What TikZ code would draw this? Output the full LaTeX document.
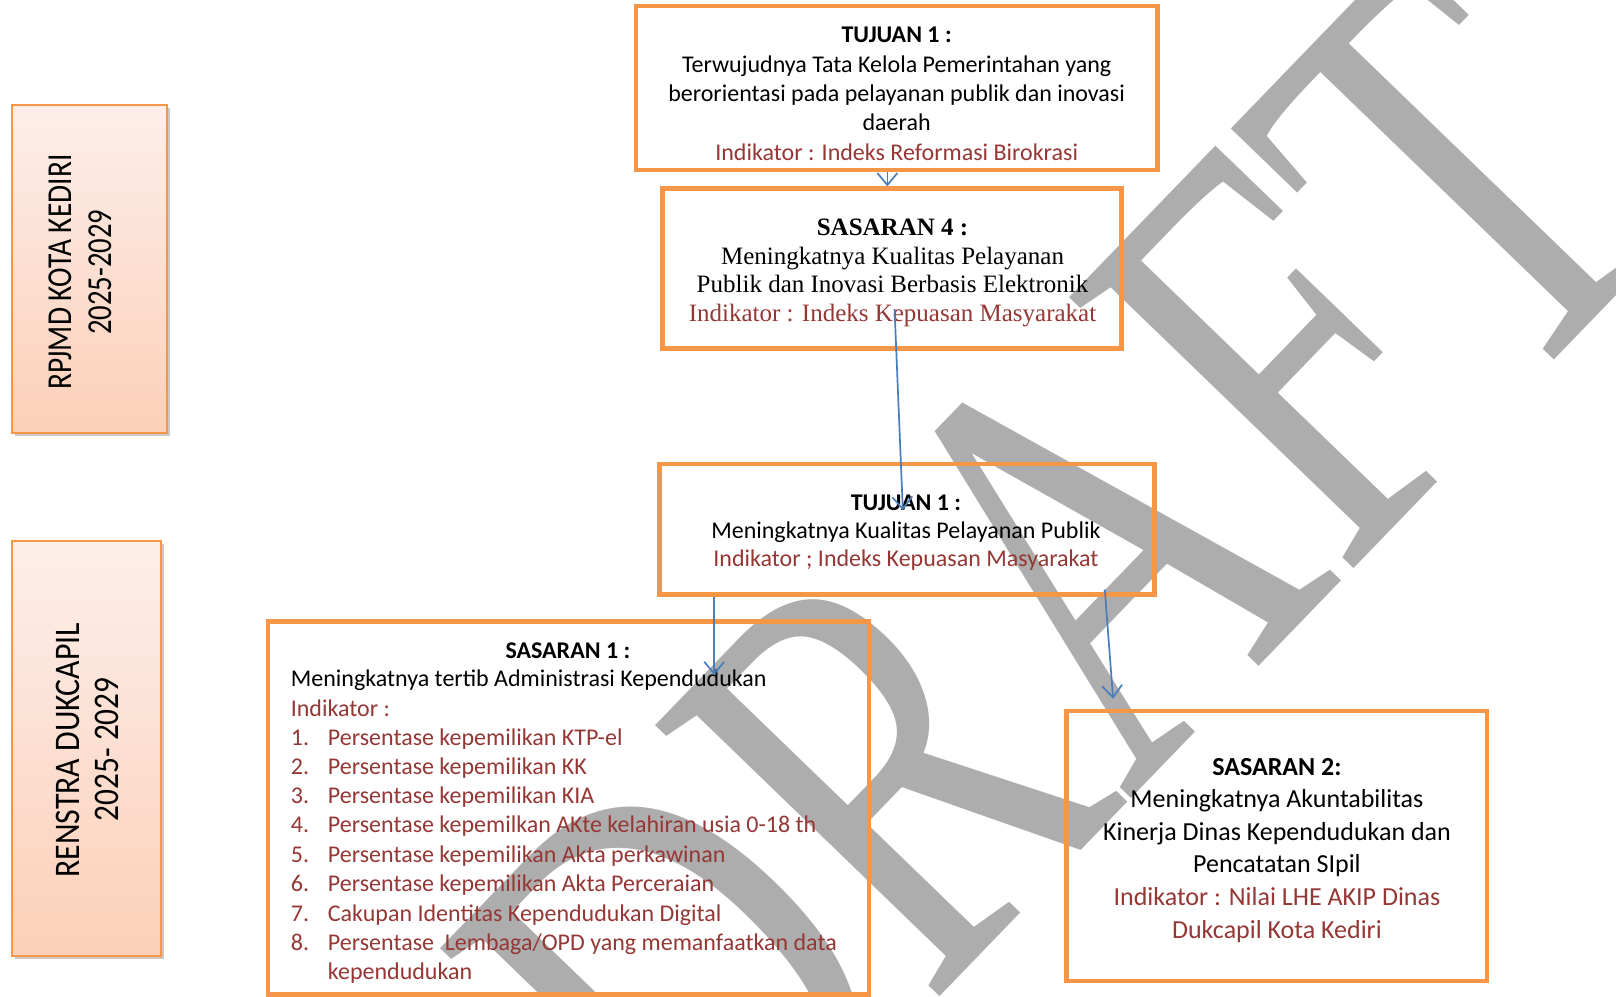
\documentclass[tikz,border=0pt]{standalone}
\usepackage{fontspec}
\setmainfont{Carlito}
\newfontfamily\serifbox{Liberation Serif}
\newfontfamily\wmfamily{Liberation Serif}
\usetikzlibrary{arrows.meta,shadows,fit}
\definecolor{orangeb}{RGB}{247,150,70}
\definecolor{bluea}{RGB}{74,126,187}
\definecolor{redt}{RGB}{149,55,53}
\definecolor{wmgray}{RGB}{173,173,173}
\definecolor{pinktop}{RGB}{253,238,234}
\definecolor{peachbot}{RGB}{251,208,184}
\begin{document}
\begin{tikzpicture}[x=1.0306pt,y=-1.0306pt,
  mainbox/.style={draw=orangeb,line width=4.5pt,inner sep=0pt,rectangle},
  sidebox/.style={draw=orangeb,line width=2pt,inner sep=0pt,rectangle,
     top color=pinktop,bottom color=peachbot,
     drop shadow={shadow xshift=3pt,shadow yshift=-3pt,opacity=0.35,fill=black!60}},
  arr/.style={draw=bluea,line width=1.7pt,-{Straight Barb[length=12pt,width=20pt,line width=1.7pt]}},
  txt/.style={inner sep=0pt,align=center},
  ctext/.style={font=\fontsize{24}{29.4}\selectfont},
  ltext/.style={inner sep=0pt,anchor=base west,font=\fontsize{24}{29}\selectfont},
  rtext/.style={ltext,text=redt}
]
\useasboundingbox (0,0) rectangle (1568,967);
\fill[white] (0,0) rectangle (1568,967);

% watermark
\node[inner sep=0pt,rotate=46,text=wmgray,font={\wmfamily\fontsize{600}{600}\selectfont}] (wm) at (1029,570) {\scalebox{0.715}[1]{DRAFT}};

% side boxes
\node[sidebox,fit={(12,102) (162,420)}] (rp) {};
\node[sidebox,fit={(12,525) (156,928)}] (rs) {};
\node[inner sep=0pt,rotate=90,font=\fontsize{35}{40}\selectfont] (rpa) at (58,264) {\scalebox{0.84}[1]{RPJMD KOTA KEDIRI}};
\node[inner sep=0pt,rotate=90,font=\fontsize{35}{40}\selectfont] (rpb) at (97,264) {\scalebox{0.82}[1]{2025-2029}};
\node[inner sep=0pt,rotate=90,font=\fontsize{36}{40}\selectfont] (rsa) at (66,728) {\scalebox{0.885}[1]{RENSTRA DUKCAPIL}};
\node[inner sep=0pt,rotate=90,font=\fontsize{36}{40}\selectfont] (rsb) at (104,727) {\scalebox{0.87}[1]{2025- 2029}};

% main boxes
\node[mainbox,fit={(617,6) (1123,165)}] (t1) {};
\node[mainbox,fit={(643,183) (1088,338)}] (s4) {};
\node[mainbox,fit={(640,450) (1120,577)}] (t2) {};
\node[mainbox,fit={(260,603) (843,965)}] (s1) {};
\node[mainbox,fit={(1035,690) (1443,952)}] (s2) {};

% texts
\node[txt,ctext] (t1t) at (870,91) {\textbf{TUJUAN 1 :}\\Terwujudnya Tata Kelola Pemerintahan yang\\berorientasi pada pelayanan publik dan inovasi\\daerah\\\textcolor{redt}{Indikator : Indeks Reformasi Birokrasi}};
\node[txt,font={\serifbox\fontsize{25}{28.5}\selectfont}] (s4t) at (866,265) {\textbf{SASARAN 4 :}\\Meningkatnya Kualitas Pelayanan\\Publik dan Inovasi Berbasis Elektronik\\\textcolor{redt}{Indikator : Indeks Kepuasan Masyarakat}};
\node[txt,font=\fontsize{24}{28.3}\selectfont] (t2t) at (879,517) {\textbf{TUJUAN 1 :}\\Meningkatnya Kualitas Pelayanan Publik\\\textcolor{redt}{Indikator ; Indeks Kepuasan Masyarakat}};
\node[txt,font=\fontsize{26}{32.6}\selectfont] (s2t) at (1239,825) {\textbf{SASARAN 2:}\\Meningkatnya Akuntabilitas\\Kinerja Dinas Kependudukan dan\\Pencatatan SIpil\\\textcolor{redt}{Indikator : Nilai LHE AKIP Dinas}\\\textcolor{redt}{Dukcapil Kota Kediri}};

\node[ltext,anchor=base] (s1h) at (551,639) {\textbf{SASARAN 1 :}};
\node[ltext] (s1a) at (282,666) {Meningkatnya tertib Administrasi Kependudukan};
\node[rtext] (s1b) at (282,695) {Indikator :};
\node[rtext] (n1) at (282,723) {1.};
\node[rtext] (n2) at (282,751) {2.};
\node[rtext] (n3) at (282,780) {3.};
\node[rtext] (n4) at (282,808) {4.};
\node[rtext] (n5) at (282,837) {5.};
\node[rtext] (n6) at (282,865) {6.};
\node[rtext] (n7) at (282,894) {7.};
\node[rtext] (n8) at (282,922) {8.};
\node[rtext] (i1) at (318,723) {Persentase kepemilikan KTP-el};
\node[rtext] (i2) at (318,751) {Persentase kepemilikan KK};
\node[rtext] (i3) at (318,780) {Persentase kepemilikan KIA};
\node[rtext] (i4) at (318,808) {Persentase kepemilkan AKte kelahiran usia 0-18 th};
\node[rtext] (i5) at (318,837) {Persentase kepemilikan Akta perkawinan};
\node[rtext] (i6) at (318,865) {Persentase kepemilikan Akta Perceraian};
\node[rtext] (i7) at (318,894) {Cakupan Identitas Kependudukan Digital};
\node[rtext] (i8) at (318,922) {Persentase\ \ Lembaga/OPD yang memanfaatkan data};
\node[rtext] (i9) at (318,950) {kependudukan};

% connectors
\coordinate (a1x) at (861,0);
\draw[arr] (t1.south -| a1x) -- (s4.north -| a1x);
\coordinate (a2s) at (868,300);
\coordinate (a2e) at (876,495);
\draw[arr] (a2s) -- (a2e);
\coordinate (a3x) at (693,0);
\coordinate (a3e) at (693,655);
\draw[arr] (t2.south -| a3x) -- (a3e);
\coordinate (a4s) at (1072,572);
\coordinate (a4e) at (1080,678);
\draw[arr] (a4s) -- (a4e);
\end{tikzpicture}
\end{document}
